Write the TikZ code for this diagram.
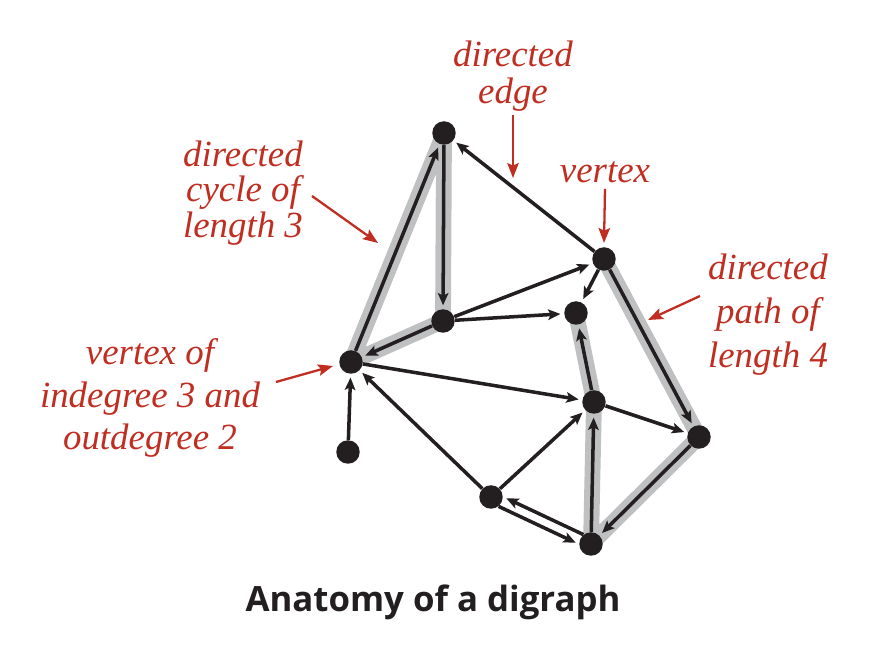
\documentclass[tikz,border=0pt]{standalone}
\usepackage{fontspec}
\setmainfont{Liberation Serif}
\setsansfont{Open Sans}
\usetikzlibrary{arrows.meta,backgrounds}
\definecolor{notered}{RGB}{192,45,33}
\definecolor{pathgray}{RGB}{190,192,194}
\definecolor{inkblack}{RGB}{35,31,32}

\begin{document}
\begin{tikzpicture}[x=0.02cm,y=-0.02cm,
  vtx/.style={circle,fill=inkblack,inner sep=0pt,minimum size=0.47cm},
  arc/.style={inkblack,line width=2pt,-{Stealth[length=7pt,width=6pt,inset=1.5pt]},shorten >=2pt},
  hilite/.style={pathgray,line width=9pt,line join=round},
  note/.style={notered,font=\itshape\fontsize{21}{24}\selectfont,align=center},
  pointer/.style={notered,line width=1.3pt,-{Stealth[length=8.5pt,width=6.5pt,inset=1.5pt]}}]
\useasboundingbox (0,0) rectangle (894,658);

\node[vtx] (a) at (444,133) {};
\node[vtx] (b) at (604,259) {};
\node[vtx] (c) at (443,321) {};
\node[vtx] (d) at (576,313) {};
\node[vtx] (e) at (351,362) {};
\node[vtx] (f) at (348,452) {};
\node[vtx] (g) at (594,402) {};
\node[vtx] (h) at (699,437) {};
\node[vtx] (i) at (491,497) {};
\node[vtx] (j) at (591,544) {};

\begin{scope}[on background layer]
  \draw[hilite] (e.center)--(a.center)--(c.center)--cycle;
  \draw[hilite] (b.center)--(h.center)--(j.center)--(g.center)--(d.center);
\end{scope}

% cycle
\draw[arc] (e)--(a);
\draw[arc] (a)--(c);
\draw[arc] (c)--(e);
% path
\draw[arc] (b)--(h);
\draw[arc] (h)--(j);
\draw[arc] (j)--(g);
\draw[arc] (g)--(d);
% other edges
\draw[arc] (b)--(a);
\draw[arc] (c)--(b);
\draw[arc] (c)--(d);
\draw[arc] (b)--(d);
\draw[arc] (e)--(g);
\draw[arc] (g)--(h);
\draw[arc] (i)--(e);
\draw[arc] (f)--(e);
\draw[arc] (i)--(g);
\draw[arc] (j.129)--(i.1);
\draw[arc] (i.-51)--(j.-179);

% labels
\node[note,font=\itshape\fontsize{21}{21}\selectfont] (edgenote) at (513,76) {directed\\edge};
\coordinate (edgetip) at (513,178);
\draw[pointer] (edgenote.south) ++(0,-2)--(edgetip);

\node[note] (vtxnote) at (605,172) {vertex};
\coordinate (vtxtip) at (604,243);
\draw[pointer] (vtxnote.south)--(vtxtip);

\node[note,font=\itshape\fontsize{21}{20}\selectfont] (cyclenote) at (243,193) {directed\\cycle of\\length 3};
\coordinate (cycletail) at (312,196);
\coordinate (cycletip) at (378,243);
\draw[pointer] (cycletail)--(cycletip);

\node[note,font=\itshape\fontsize{21}{25}\selectfont] (pathnote) at (768,315) {directed\\path of\\length 4};
\coordinate (pathtail) at (700,296);
\coordinate (pathtip) at (648,320);
\draw[pointer] (pathtail)--(pathtip);

\node[note] (degnote) at (150,398) {vertex of\\indegree 3 and\\outdegree 2};
\coordinate (degtail) at (276,382);
\coordinate (degtip) at (333,366);
\draw[pointer] (degtail)--(degtip);

\node[inkblack,anchor=base,font=\sffamily\bfseries\fontsize{19.8}{24}\selectfont] (title) at (433,612) {Anatomy of a digraph};

\end{tikzpicture}
\end{document}
